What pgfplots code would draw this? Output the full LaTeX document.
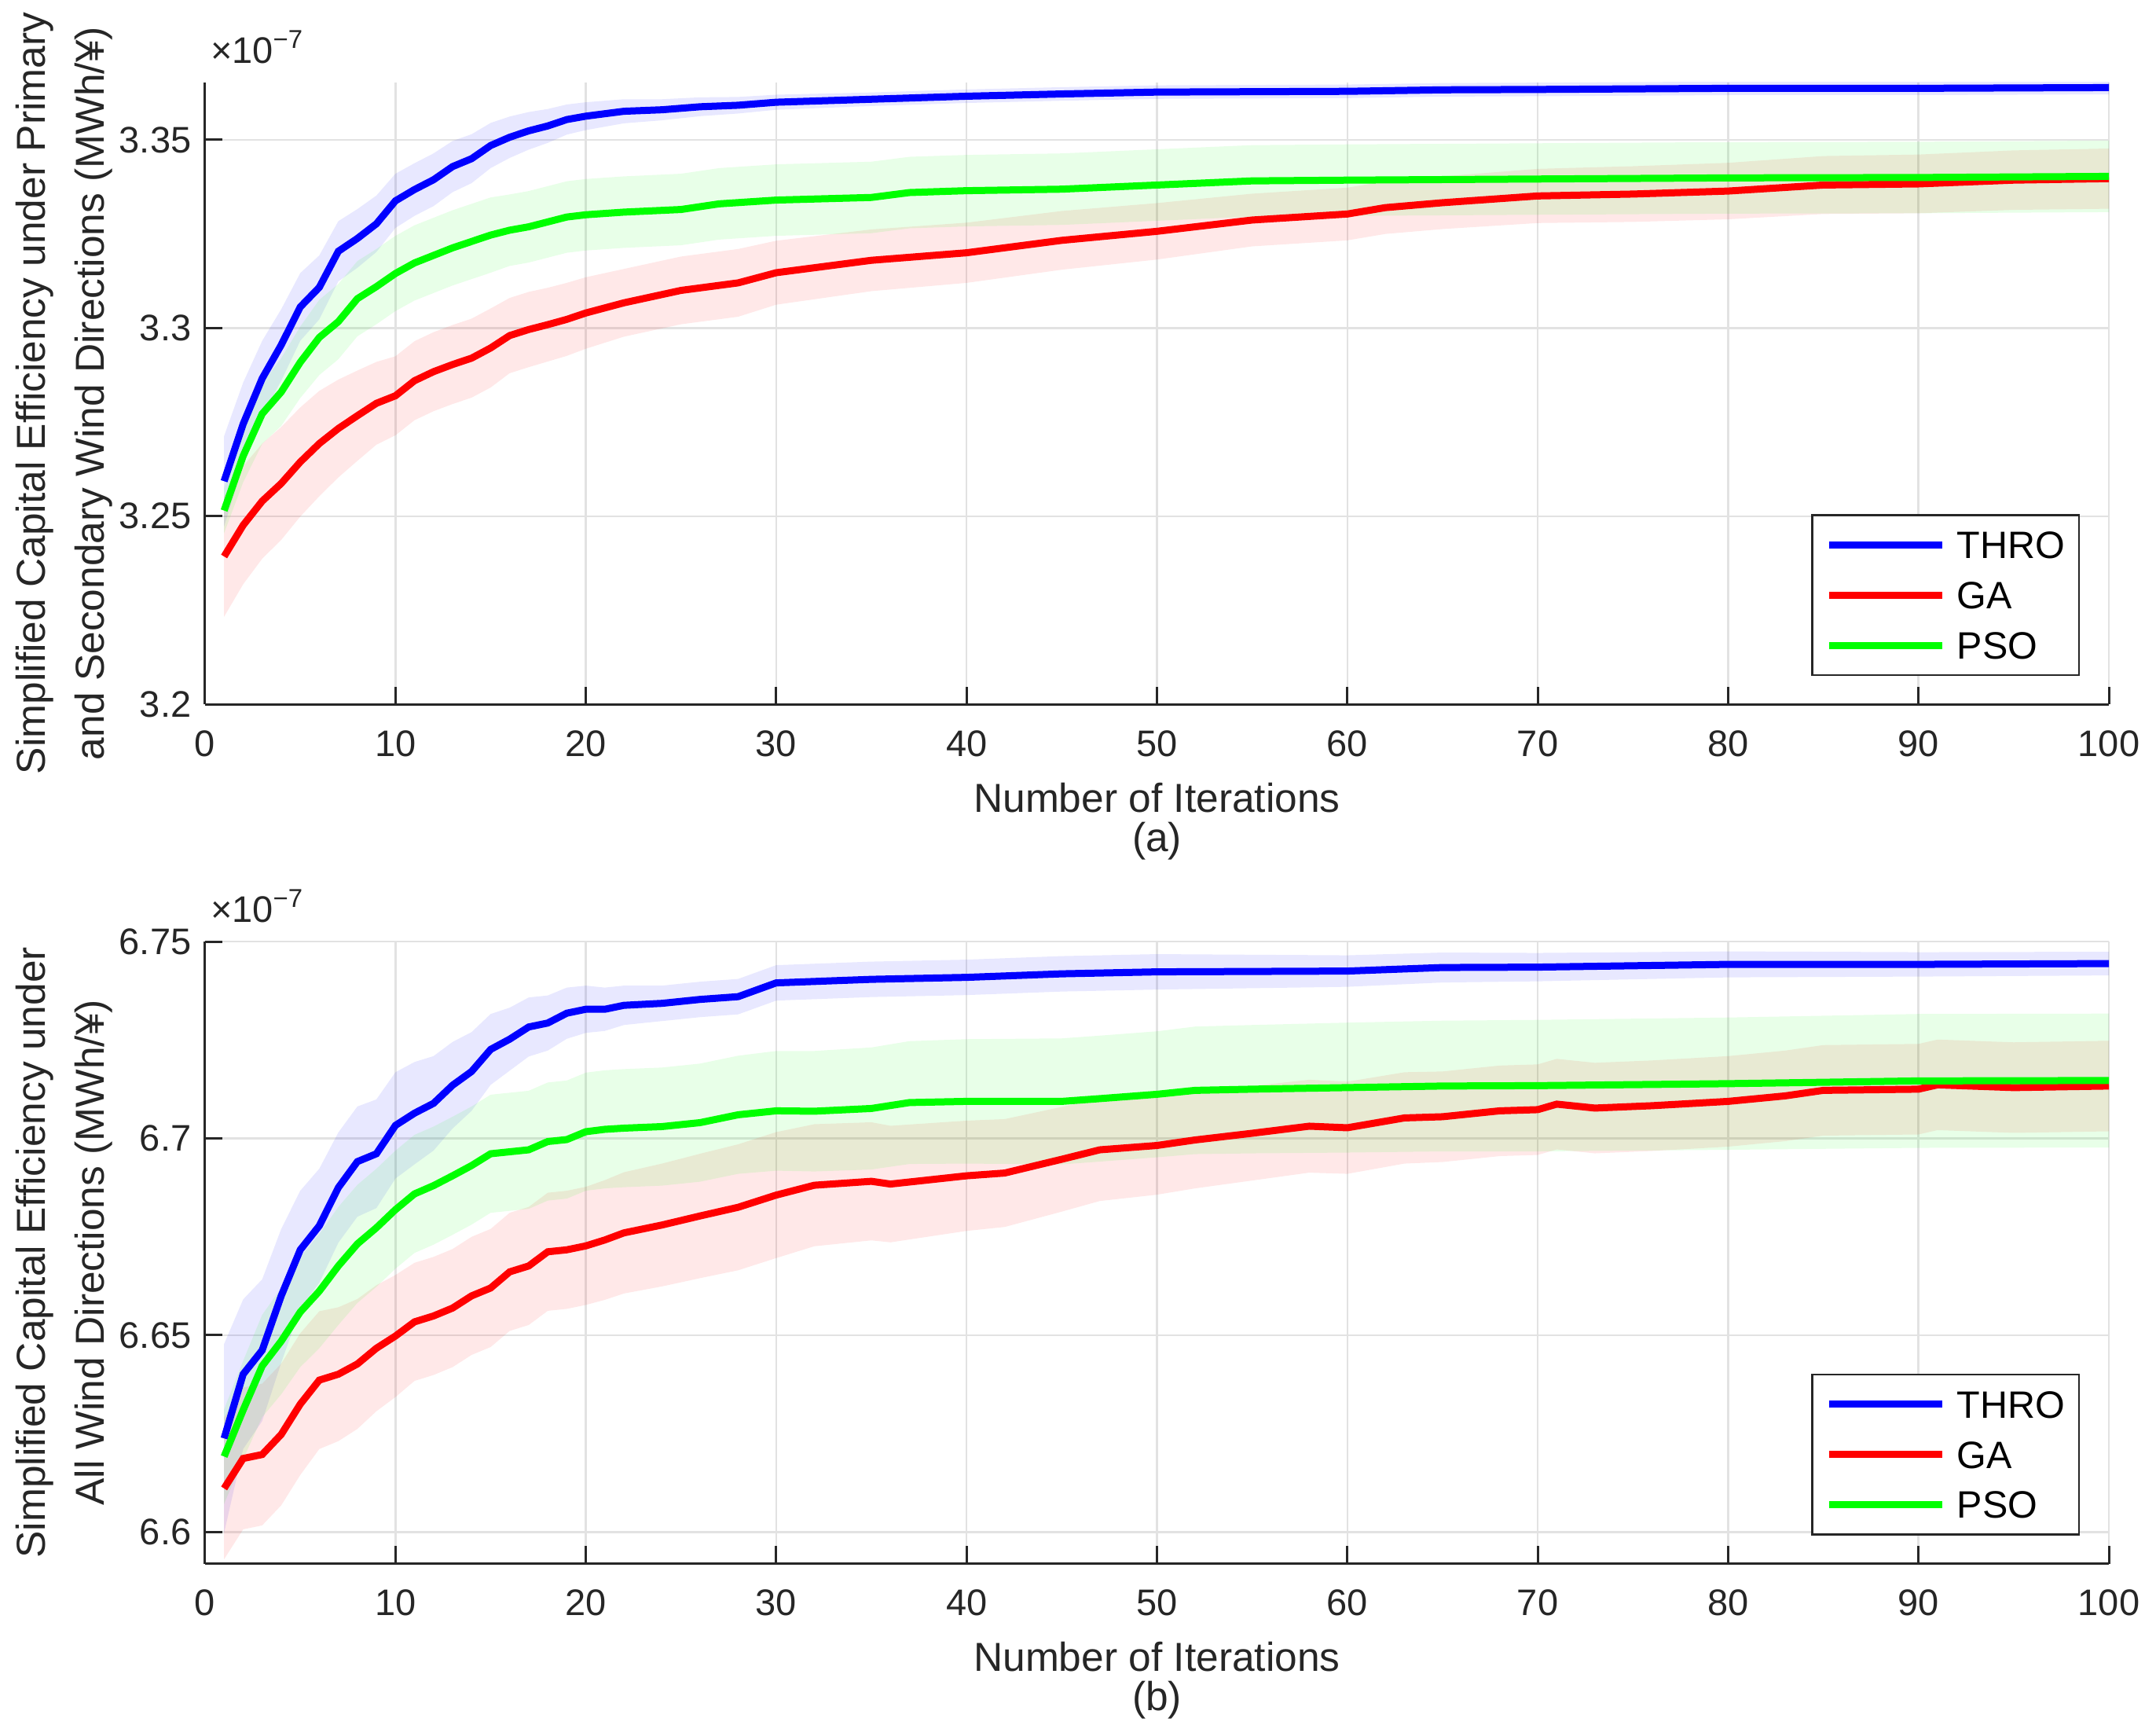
\documentclass[border=0pt]{standalone}
\usepackage{fontspec}
\setmainfont{Liberation Sans}
\usepackage{pgfplots}
\pgfplotsset{compat=1.18}
\usepackage{pgfplotstable}
\usepgfplotslibrary{fillbetween}

\definecolor{axc}{RGB}{38,38,38}
\definecolor{gridc}{RGB}{226,226,226}

% ---------- panel (a) ----------
\pgfplotstableread{
x y lo hi
1 3.2593 3.2473 3.2713
2 3.2745 3.2635 3.2855
3 3.2866 3.2766 3.2966
4 3.2955 3.2860 3.3050
5 3.3056 3.2966 3.3146
6 3.3108 3.3023 3.3193
7 3.3204 3.3124 3.3284
8 3.3238 3.3160 3.3316
9 3.3277 3.3202 3.3352
10 3.3338 3.3266 3.3410
11 3.3368 3.3298 3.3438
12 3.3394 3.3324 3.3464
13 3.3429 3.3361 3.3497
14 3.3450 3.3385 3.3515
15 3.3485 3.3425 3.3545
16 3.3507 3.3452 3.3562
17 3.3524 3.3474 3.3574
18 3.3537 3.3492 3.3582
19 3.3554 3.3514 3.3594
20 3.3563 3.3526 3.3600
22 3.3576 3.3544 3.3608
24 3.3580 3.3552 3.3608
26 3.3588 3.3563 3.3613
28 3.3592 3.3570 3.3614
30 3.3600 3.3580 3.3620
35 3.3608 3.3590 3.3626
40 3.3616 3.3598 3.3634
45 3.3622 3.3604 3.3640
50 3.3627 3.3609 3.3645
60 3.3629 3.3611 3.3647
65 3.3633 3.3615 3.3651
70 3.3634 3.3616 3.3652
80 3.3637 3.3619 3.3655
90 3.3637 3.3619 3.3655
100 3.3639 3.3621 3.3657
}\thrA

\pgfplotstableread{
x y lo hi
1 3.2393 3.2233 3.2553
2 3.2476 3.2319 3.2633
3 3.2540 3.2387 3.2693
4 3.2587 3.2437 3.2737
5 3.2644 3.2499 3.2789
6 3.2693 3.2553 3.2833
7 3.2733 3.2603 3.2863
8 3.2767 3.2647 3.2887
9 3.2800 3.2690 3.2910
10 3.2820 3.2715 3.2925
11 3.2860 3.2755 3.2965
12 3.2884 3.2779 3.2989
13 3.2903 3.2798 3.3008
14 3.2920 3.2815 3.3025
15 3.2947 3.2842 3.3052
16 3.2980 3.2880 3.3080
17 3.2996 3.2896 3.3096
18 3.3009 3.2911 3.3107
19 3.3023 3.2926 3.3120
20 3.3040 3.2945 3.3135
22 3.3067 3.2977 3.3157
25 3.3100 3.3010 3.3190
28 3.3120 3.3030 3.3210
30 3.3147 3.3062 3.3232
35 3.3180 3.3098 3.3262
40 3.3200 3.3120 3.3280
45 3.3233 3.3155 3.3311
50 3.3257 3.3182 3.3332
55 3.3287 3.3217 3.3357
60 3.3303 3.3233 3.3373
62 3.3320 3.3250 3.3390
65 3.3333 3.3263 3.3403
70 3.3351 3.3279 3.3423
75 3.3356 3.3282 3.3430
80 3.3364 3.3289 3.3439
85 3.3380 3.3303 3.3457
90 3.3383 3.3305 3.3461
95 3.3393 3.3314 3.3472
100 3.3397 3.3317 3.3477
}\gaA

\pgfplotstableread{
x y lo hi
1 3.2515 3.2455 3.2575
2 3.2660 3.2590 3.2730
3 3.2772 3.2692 3.2852
4 3.2830 3.2740 3.2920
5 3.2909 3.2814 3.3004
6 3.2975 3.2875 3.3075
7 3.3017 3.2917 3.3117
8 3.3078 3.2978 3.3178
9 3.3110 3.3010 3.3210
10 3.3145 3.3045 3.3245
11 3.3173 3.3073 3.3273
12 3.3193 3.3093 3.3293
13 3.3213 3.3113 3.3313
14 3.3230 3.3130 3.3330
15 3.3247 3.3147 3.3347
16 3.3260 3.3165 3.3355
17 3.3269 3.3174 3.3364
18 3.3282 3.3187 3.3377
19 3.3295 3.3200 3.3390
20 3.3301 3.3206 3.3396
22 3.3308 3.3213 3.3403
25 3.3315 3.3220 3.3410
27 3.3330 3.3235 3.3425
30 3.3340 3.3245 3.3435
35 3.3347 3.3252 3.3442
37 3.3360 3.3265 3.3455
40 3.3365 3.3270 3.3460
45 3.3369 3.3274 3.3464
50 3.3380 3.3285 3.3475
55 3.3391 3.3296 3.3486
60 3.3393 3.3298 3.3488
70 3.3396 3.3301 3.3491
80 3.3399 3.3304 3.3494
90 3.3400 3.3305 3.3495
100 3.3403 3.3308 3.3498
}\psoA

% ---------- panel (b) ----------
\pgfplotstableread{
x y lo hi
1 6.6238 6.5998 6.6478
2 6.6401 6.6211 6.6591
3 6.6462 6.6282 6.6642
4 6.6600 6.6430 6.6770
5 6.6717 6.6567 6.6867
6 6.6778 6.6633 6.6923
7 6.6875 6.6735 6.7015
8 6.6941 6.6801 6.7081
9 6.6961 6.6823 6.7099
10 6.7033 6.6898 6.7168
11 6.7064 6.6934 6.7194
12 6.7089 6.6969 6.7209
13 6.7135 6.7025 6.7245
14 6.7170 6.7070 6.7270
15 6.7226 6.7136 6.7316
16 6.7252 6.7172 6.7332
17 6.7283 6.7208 6.7358
18 6.7293 6.7223 6.7363
19 6.7318 6.7253 6.7383
20 6.7328 6.7268 6.7388
21 6.7328 6.7273 6.7383
22 6.7338 6.7288 6.7388
24 6.7343 6.7298 6.7388
26 6.7353 6.7308 6.7398
28 6.7360 6.7315 6.7405
30 6.7395 6.7350 6.7440
35 6.7404 6.7359 6.7449
40 6.7409 6.7364 6.7454
45 6.7418 6.7373 6.7463
50 6.7423 6.7378 6.7468
60 6.7425 6.7385 6.7465
65 6.7434 6.7396 6.7472
70 6.7435 6.7399 6.7471
80 6.7442 6.7409 6.7475
90 6.7442 6.7411 6.7473
100 6.7444 6.7414 6.7474
}\thrB

\pgfplotstableread{
x y lo hi
1 6.6111 6.5931 6.6291
2 6.6187 6.6007 6.6367
3 6.6197 6.6017 6.6377
4 6.6248 6.6068 6.6428
5 6.6325 6.6145 6.6505
6 6.6386 6.6211 6.6561
7 6.6401 6.6231 6.6571
8 6.6427 6.6262 6.6592
9 6.6467 6.6307 6.6627
10 6.6498 6.6343 6.6653
11 6.6534 6.6384 6.6684
12 6.6549 6.6399 6.6699
13 6.6569 6.6419 6.6719
14 6.6600 6.6450 6.6750
15 6.6620 6.6470 6.6770
16 6.6661 6.6511 6.6811
17 6.6676 6.6526 6.6826
18 6.6712 6.6562 6.6862
19 6.6717 6.6567 6.6867
20 6.6727 6.6577 6.6877
21 6.6742 6.6590 6.6894
22 6.6760 6.6606 6.6914
24 6.6780 6.6624 6.6936
26 6.6803 6.6645 6.6961
28 6.6825 6.6665 6.6985
30 6.6856 6.6696 6.7016
32 6.6881 6.6726 6.7036
35 6.6891 6.6741 6.7041
36 6.6884 6.6736 6.7032
40 6.6905 6.6765 6.7045
42 6.6912 6.6775 6.7049
45 6.6947 6.6814 6.7080
47 6.6971 6.6841 6.7101
50 6.6982 6.6857 6.7107
52 6.6996 6.6873 6.7119
55 6.7013 6.6893 6.7133
58 6.7031 6.6913 6.7149
60 6.7027 6.6910 6.7144
63 6.7052 6.6936 6.7168
65 6.7055 6.6940 6.7170
68 6.7070 6.6955 6.7185
70 6.7073 6.6958 6.7188
71 6.7087 6.6972 6.7202
73 6.7077 6.6962 6.7192
76 6.7083 6.6968 6.7198
80 6.7094 6.6979 6.7209
83 6.7108 6.6993 6.7223
85 6.7122 6.7007 6.7237
90 6.7125 6.7010 6.7240
91 6.7136 6.7021 6.7251
95 6.7129 6.7014 6.7244
100 6.7133 6.7018 6.7248
}\gaB

\pgfplotstableread{
x y lo hi
1 6.6192 6.6072 6.6312
2 6.6310 6.6185 6.6435
3 6.6422 6.6292 6.6552
4 6.6485 6.6350 6.6620
5 6.6559 6.6419 6.6699
6 6.6612 6.6467 6.6757
7 6.6676 6.6526 6.6826
8 6.6732 6.6582 6.6882
9 6.6773 6.6623 6.6923
10 6.6819 6.6669 6.6969
11 6.6859 6.6709 6.7009
12 6.6880 6.6730 6.7030
13 6.6905 6.6755 6.7055
14 6.6931 6.6781 6.7081
15 6.6961 6.6811 6.7111
16 6.6966 6.6816 6.7116
17 6.6971 6.6821 6.7121
18 6.6992 6.6842 6.7142
19 6.6997 6.6847 6.7147
20 6.7017 6.6867 6.7167
21 6.7023 6.6873 6.7173
22 6.7026 6.6876 6.7176
24 6.7030 6.6880 6.7180
26 6.7040 6.6890 6.7190
28 6.7060 6.6910 6.7210
30 6.7070 6.6918 6.7222
32 6.7069 6.6916 6.7222
35 6.7076 6.6921 6.7231
37 6.7091 6.6935 6.7247
40 6.7094 6.6936 6.7252
45 6.7094 6.6934 6.7254
47 6.7101 6.6941 6.7261
50 6.7112 6.6952 6.7272
52 6.7122 6.6960 6.7284
55 6.7125 6.6962 6.7288
60 6.7129 6.6964 6.7294
65 6.7133 6.6967 6.7299
70 6.7134 6.6967 6.7301
80 6.7139 6.6971 6.7307
90 6.7146 6.6976 6.7316
100 6.7147 6.6977 6.7317
}\psoB

\pgfplotsset{
  panel/.style={
    scale only axis, width=484.6pt, height=158.3pt,
    clip mode=individual,
    xmin=0, xmax=100, xtick={0,10,...,100},
    axis x line*=bottom, axis y line*=left,
    axis line style={axc, line width=0.6pt},
    tick align=inside, major tick length=4.5pt,
    every tick/.style={axc, line width=0.6pt},
    grid=major, major grid style={gridc, line width=0.5pt},
    /pgf/number format/assume math mode=true,
    ticklabel style={font=\fontsize{9.4}{11}\selectfont, text=axc},
    xticklabel style={yshift=-3.1pt},
    xlabel style={font=\fontsize{10.3}{10}\selectfont, align=center, text=axc,
      at={([yshift=-19.8pt]axis description cs:0.5,0)}, anchor=north, inner sep=0pt},
    ylabel style={font=\fontsize{10.3}{15}\selectfont, align=center, text=axc,
      at={([xshift=-35.9pt]axis description cs:0,0.5)}, anchor=center, inner sep=0pt},
    legend style={at={(1,0)}, anchor=south east, xshift=-7.4pt, yshift=7.2pt,
      draw=axc, line width=0.5pt, fill=white, inner xsep=3.5pt, inner ysep=1.2pt,
      font=\fontsize{9.7}{11}\selectfont, row sep=0pt,
      nodes={text height=7pt, text depth=0pt, inner ysep=2.88pt, inner xsep=0pt},
      /tikz/every odd column/.append style={column sep=2.8pt}},
    legend cell align=left,
    legend image code/.code={\draw[##1] (0pt,0pt) -- (28.8pt,0pt);},
    band/.style={draw=none, fill opacity=0.09},
    mean/.style={line width=1.8pt},
  }
}

\begin{document}
\begin{tikzpicture}

% ================= (a) =================
\begin{axis}[panel, at={(0,0)}, anchor=north west,
  ymin=3.2, ymax=3.3653, ytick={3.2,3.25,3.3,3.35},
  xlabel={Number of Iterations\\(a)},
  ylabel={Simplified Capital Efficiency under Primary\\and Secondary Wind Directions (MWh/¥)}]
  \addplot[draw=none, forget plot, name path=tAu] table[x=x,y=hi]{\thrA};
  \addplot[draw=none, forget plot, name path=tAl] table[x=x,y=lo]{\thrA};
  \addplot[draw=none, forget plot, name path=gAu] table[x=x,y=hi]{\gaA};
  \addplot[draw=none, forget plot, name path=gAl] table[x=x,y=lo]{\gaA};
  \addplot[draw=none, forget plot, name path=pAu] table[x=x,y=hi]{\psoA};
  \addplot[draw=none, forget plot, name path=pAl] table[x=x,y=lo]{\psoA};
  \addplot[band, fill=blue, forget plot] fill between[of=tAu and tAl];
  \addplot[band, fill=red, forget plot] fill between[of=gAu and gAl];
  \addplot[band, fill=green, forget plot] fill between[of=pAu and pAl];
  \addplot[mean, color=blue] table[x=x,y=y]{\thrA};
  \addplot[mean, color=red] table[x=x,y=y]{\gaA};
  \addplot[mean, color=green] table[x=x,y=y]{\psoA};
  \legend{THRO,GA,PSO}
  \node[anchor=base west, inner sep=0pt, font=\fontsize{9.4}{11}\selectfont, text=axc]
    at ([xshift=1.2pt,yshift=4.9pt]rel axis cs:0,1) {×10\textsuperscript{−7}};
\end{axis}

% ================= (b) =================
\begin{axis}[panel, at={(0,-218.66pt)}, anchor=north west,
  ymin=6.592, ymax=6.75, ytick={6.6,6.65,6.7,6.75},
  xlabel={Number of Iterations\\(b)},
  ylabel={Simplified Capital Efficiency under\\All Wind Directions (MWh/¥)}]
  \addplot[draw=none, forget plot, name path=tBu] table[x=x,y=hi]{\thrB};
  \addplot[draw=none, forget plot, name path=tBl] table[x=x,y=lo]{\thrB};
  \addplot[draw=none, forget plot, name path=gBu] table[x=x,y=hi]{\gaB};
  \addplot[draw=none, forget plot, name path=gBl] table[x=x,y=lo]{\gaB};
  \addplot[draw=none, forget plot, name path=pBu] table[x=x,y=hi]{\psoB};
  \addplot[draw=none, forget plot, name path=pBl] table[x=x,y=lo]{\psoB};
  \addplot[band, fill=blue, forget plot] fill between[of=tBu and tBl];
  \addplot[band, fill=red, forget plot] fill between[of=gBu and gBl];
  \addplot[band, fill=green, forget plot] fill between[of=pBu and pBl];
  \addplot[mean, color=blue] table[x=x,y=y]{\thrB};
  \addplot[mean, color=red] table[x=x,y=y]{\gaB};
  \addplot[mean, color=green] table[x=x,y=y]{\psoB};
  \legend{THRO,GA,PSO}
  \node[anchor=base west, inner sep=0pt, font=\fontsize{9.4}{11}\selectfont, text=axc]
    at ([xshift=1.2pt,yshift=4.9pt]rel axis cs:0,1) {×10\textsuperscript{−7}};
\end{axis}
\path (-52.2pt,-418.86pt) rectangle (496.6pt,20.94pt);
\end{tikzpicture}
\end{document}
